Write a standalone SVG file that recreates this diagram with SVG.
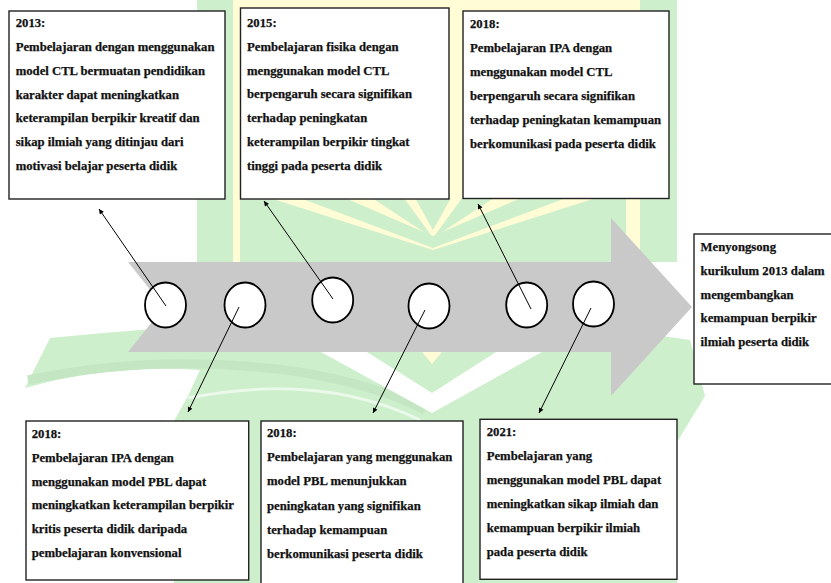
<svg xmlns="http://www.w3.org/2000/svg" width="831" height="583" viewBox="0 0 831 583">
<defs>
<style>
.wg{fill:#cdefcc}
.wy{fill:#fffcd6}
.box{fill:#fff;stroke:#222;stroke-width:1.4}
.t{font-family:"Liberation Serif","Times New Roman",serif;font-weight:700;font-size:12.7px;fill:#111;stroke:#111;stroke-width:0.25}
.c{fill:#fff;stroke:#000;stroke-width:1.8}
.ln{stroke:#000;stroke-width:1;fill:none}
</style>
<marker id="ah" viewBox="0 0 10 10" refX="10" refY="5" markerWidth="7" markerHeight="5" orient="auto" markerUnits="userSpaceOnUse"><path d="M0,0 L10,5 L0,10 z" fill="#000"/></marker>
</defs>
<rect width="831" height="583" fill="#fff"/>
<g id="watermark">
<path class="wg" d="M197 0 H677 V262 H197 Z"/>
<path class="wy" d="M233 0 H640 V262 H233 Z"/>
<path class="wg" d="M240 198 L270 198 L433 250 L433 262 L240 262 Z"/>
<path class="wg" d="M626 198 L596 198 L433 250 L433 262 L626 262 Z"/>
<path class="wg" d="M300 198 L345 198 L433 236 L433 248 Z"/>
<path class="wg" d="M566 198 L521 198 L433 236 L433 248 Z"/>
<path class="wg" d="M372 198 L404 198 L433 238 Z"/>
<path class="wg" d="M494 198 L462 198 L433 238 Z"/>
<path class="wg" d="M415 198 L451 198 L433 230 Z"/>
<path class="wg" d="M50 338 L25 388 Q110 364 200 370 L188 396 L174 421 L174 583 L677 583 L677 442 L705 396 L690 340 Q433 300 50 338 Z"/>
<path d="M28 380 Q160 352 300 372 Q380 386 425 410" fill="none" stroke="#c4e6c3" stroke-width="9"/>
<path d="M188 398 Q320 372 420 420" fill="none" stroke="#ffffff" stroke-width="3" opacity="0.6"/>
<path d="M321 352 L432 413 L542 352 L496 352 L432 393 L367 352 Z" fill="#fff"/>
<path class="wy" d="M422 352 L442 352 L432 364 Z"/>
</g>
<g id="timeline-arrow">
<path d="M128 262 L611 262 L611 218 L692 307 L611 396 L611 352 L128 352 L164 307 Z" fill="#c9c9c9"/>
</g>
<g id="points">
<ellipse class="c" cx="165.5" cy="305" rx="20.5" ry="22.5"/>
<ellipse class="c" cx="245" cy="305" rx="20.5" ry="22.5"/>
<ellipse class="c" cx="332.7" cy="300" rx="20.5" ry="22.5"/>
<ellipse class="c" cx="429" cy="306" rx="20.5" ry="22.5"/>
<ellipse class="c" cx="526.7" cy="305" rx="20.5" ry="22.5"/>
<ellipse class="c" cx="593.5" cy="304" rx="20.5" ry="22.5"/>
</g>
<g id="connectors">
<line class="ln" x1="166" y1="306" x2="99" y2="209" marker-end="url(#ah)"/>
<line class="ln" x1="333" y1="299" x2="264" y2="201" marker-end="url(#ah)"/>
<line class="ln" x1="531" y1="309" x2="478" y2="204" marker-end="url(#ah)"/>
<line class="ln" x1="239" y1="307" x2="188" y2="412" marker-end="url(#ah)"/>
<line class="ln" x1="425" y1="310" x2="373" y2="413" marker-end="url(#ah)"/>
<line class="ln" x1="591" y1="308" x2="539" y2="413" marker-end="url(#ah)"/>
</g>
<g id="box-2013">
<rect class="box" x="9" y="11" width="216" height="188"/>
<text class="t" x="15.7" y="27">2013:</text>
<text class="t" x="15.7" y="50.8">Pembelajaran dengan menggunakan</text>
<text class="t" x="15.7" y="74.7">model CTL bermuatan pendidikan</text>
<text class="t" x="15.7" y="98.5">karakter dapat meningkatkan</text>
<text class="t" x="15.7" y="122.3">keterampilan berpikir kreatif dan</text>
<text class="t" x="15.7" y="146.2">sikap ilmiah yang ditinjau dari</text>
<text class="t" x="15.7" y="170">motivasi belajar peserta didik</text>
</g>
<g id="box-2015">
<rect class="box" x="240.5" y="8" width="208.5" height="191"/>
<text class="t" x="247" y="26.7">2015:</text>
<text class="t" x="247" y="50.6">Pembelajaran fisika dengan</text>
<text class="t" x="247" y="74.5">menggunakan model CTL</text>
<text class="t" x="247" y="98.4">berpengaruh secara signifikan</text>
<text class="t" x="247" y="122.3">terhadap peningkatan</text>
<text class="t" x="247" y="146.2">keterampilan berpikir tingkat</text>
<text class="t" x="247" y="170.1">tinggi pada peserta didik</text>
</g>
<g id="box-2018-ctl">
<rect class="box" x="463" y="11" width="206" height="187.5"/>
<text class="t" x="470" y="28">2018:</text>
<text class="t" x="470" y="51.9">Pembelajaran IPA dengan</text>
<text class="t" x="470" y="75.8">menggunakan model CTL</text>
<text class="t" x="470" y="99.7">berpengaruh secara signifikan</text>
<text class="t" x="470" y="123.6">terhadap peningkatan kemampuan</text>
<text class="t" x="470" y="147.5">berkomunikasi pada peserta didik</text>
</g>
<g id="box-goal">
<rect class="box" x="694" y="234" width="150" height="150"/>
<text class="t" x="700.6" y="251">Menyongsong</text>
<text class="t" x="700.6" y="274.8">kurikulum 2013 dalam</text>
<text class="t" x="700.6" y="298.6">mengembangkan</text>
<text class="t" x="700.6" y="322.4">kemampuan berpikir</text>
<text class="t" x="700.6" y="346.2">ilmiah peserta didik</text>
</g>
<g id="box-2018-pbl">
<rect class="box" x="26" y="421" width="222.7" height="159"/>
<text class="t" x="31.7" y="438">2018:</text>
<text class="t" x="31.7" y="461.8">Pembelajaran IPA dengan</text>
<text class="t" x="31.7" y="485.6">menggunakan model PBL dapat</text>
<text class="t" x="31.7" y="509.4">meningkatkan keterampilan berpikir</text>
<text class="t" x="31.7" y="533.2">kritis peserta didik daripada</text>
<text class="t" x="31.7" y="557">pembelajaran konvensional</text>
</g>
<g id="box-2018-pbl2">
<rect class="box" x="261" y="421" width="202" height="170"/>
<text class="t" x="267" y="437">2018:</text>
<text class="t" x="267" y="461.2">Pembelajaran yang menggunakan</text>
<text class="t" x="267" y="485.4">model PBL menunjukkan</text>
<text class="t" x="267" y="509.6">peningkatan yang signifikan</text>
<text class="t" x="267" y="533.8">terhadap kemampuan</text>
<text class="t" x="267" y="558">berkomunikasi peserta didik</text>
</g>
<g id="box-2021">
<rect class="box" x="480" y="419.3" width="197" height="160"/>
<text class="t" x="486.7" y="436">2021:</text>
<text class="t" x="486.7" y="460">Pembelajaran yang</text>
<text class="t" x="486.7" y="484">menggunakan model PBL dapat</text>
<text class="t" x="486.7" y="508">meningkatkan sikap ilmiah dan</text>
<text class="t" x="486.7" y="532">kemampuan berpikir ilmiah</text>
<text class="t" x="486.7" y="556">pada peserta didik</text>
</g>
</svg>
